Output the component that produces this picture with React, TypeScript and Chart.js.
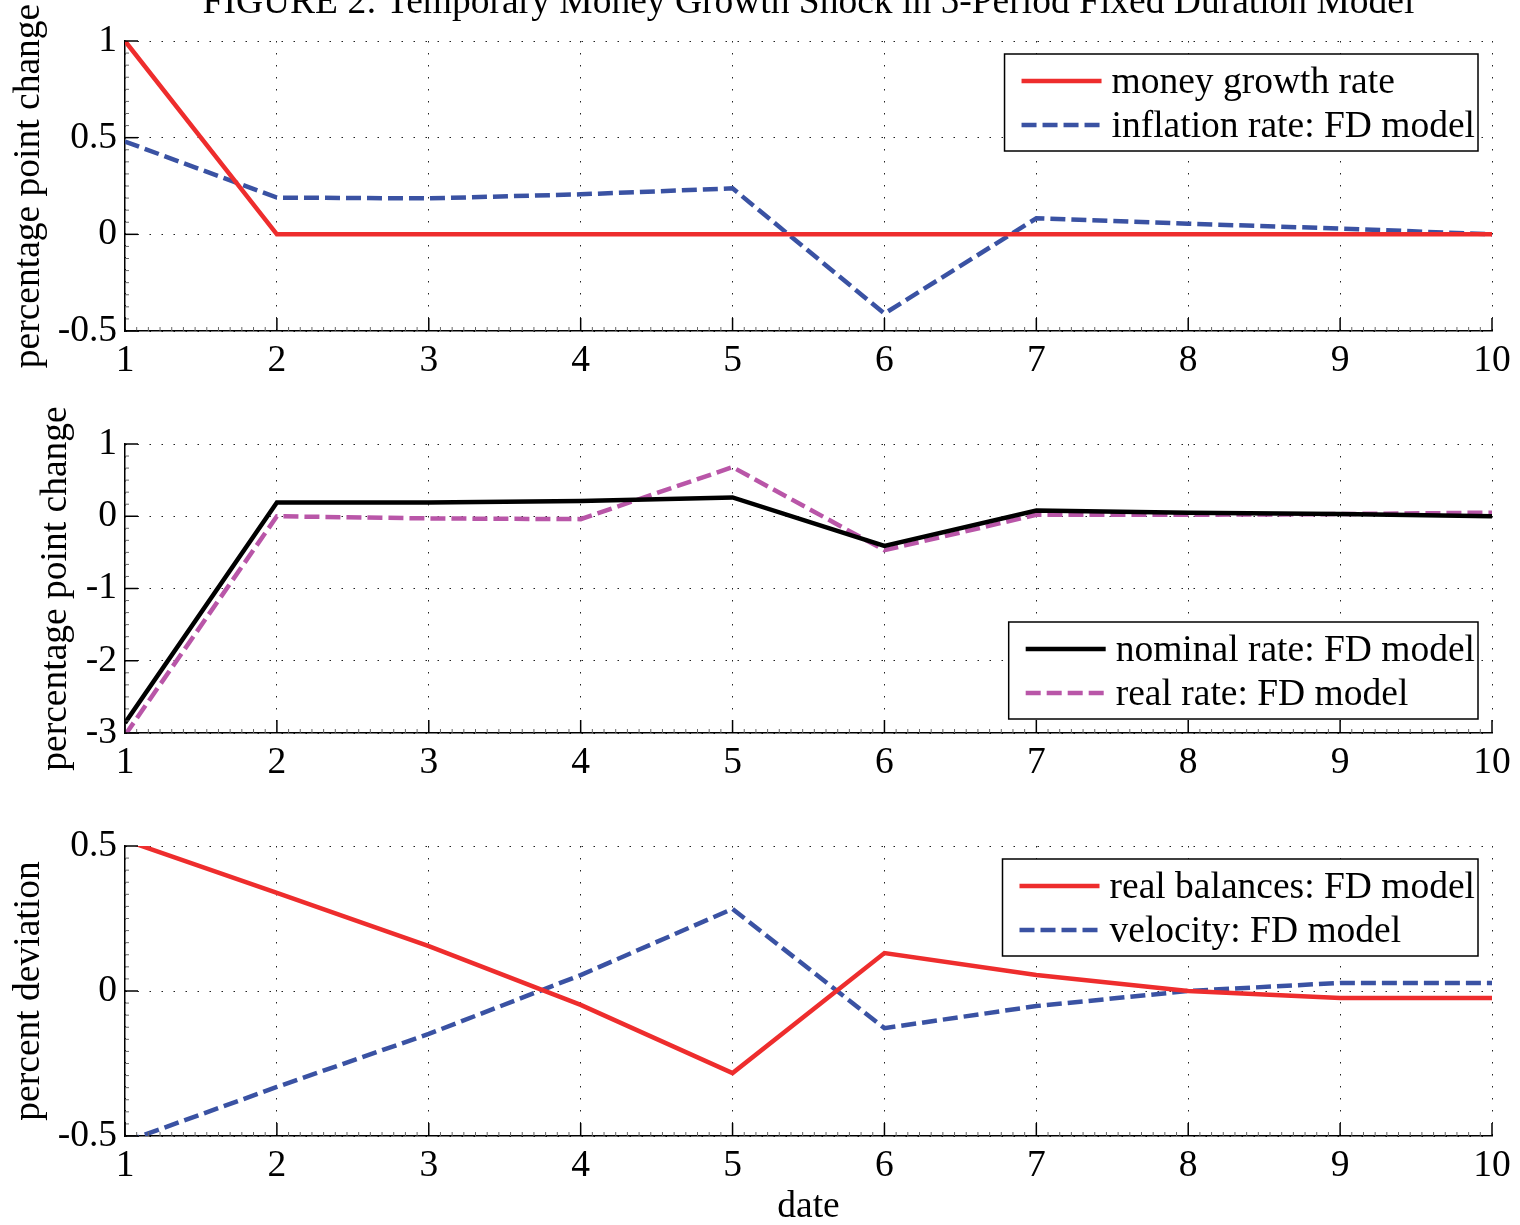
import React, { useEffect, useRef } from "react";
import { Chart, registerables } from "chart.js";

Chart.register(...registerables);

const FONT = "'Liberation Serif', 'Times New Roman', Times, serif";
const FS = 37.5;
const W = 1520;

// ---------- data ----------
const dates = [1, 2, 3, 4, 5, 6, 7, 8, 9, 10];

const moneyGrowthRate = [1, 0, 0, 0, 0, 0, 0, 0, 0, 0];
const inflationFD = [0.48, 0.19, 0.186, 0.207, 0.238, -0.41, 0.083, 0.055, 0.03, 0];

const nominalRateFD = [-2.86, 0.19, 0.19, 0.21, 0.26, -0.41, 0.08, 0.05, 0.03, 0];
const realRateFD = [-3.03, 0.0, -0.03, -0.04, 0.68, -0.47, 0.02, 0.02, 0.03, 0.05];

const realBalancesFD = [0.52, 0.338, 0.155, -0.048, -0.283, 0.131, 0.055, 0.0, -0.024, -0.024];
const velocityFD = [-0.52, -0.331, -0.148, 0.055, 0.283, -0.128, -0.052, 0.0, 0.028, 0.028];

const xTicks = [1, 2, 3, 4, 5, 6, 7, 8, 9, 10];
const yTicks1 = [-0.5, 0, 0.5, 1];
const yTicks2 = [-3, -2, -1, 0, 1];
const yTicks3 = [-0.5, 0, 0.5];

const figureTitle = "FIGURE 2: Temporary Money Growth Shock in 5-Period Fixed Duration Model";

const RED = "#ee2d2d";
const BLUE = "#3a52a3";
const MAGENTA = "#b956a8";
const BLACK = "#000000";

// ---------- plugins ----------
const tickMarks = {
  id: "tickMarks",
  afterDraw(chart: any) {
    const { ctx, chartArea } = chart;
    const xs = chart.scales.x;
    const ys = chart.scales.y;
    ctx.save();
    ctx.strokeStyle = "#666";
    ctx.lineWidth = 1;
    const xv = xs.ticks.map((t: any) => t.value);
    for (let i = 0; i < xv.length - 1; i++) {
      const a = xs.getPixelForValue(xv[i]);
      const b = xs.getPixelForValue(xv[i + 1]);
      const n = Math.max(1, Math.round((b - a) / 12));
      for (let k = 1; k < n; k++) {
        const p = a + ((b - a) * k) / n;
        ctx.beginPath();
        ctx.moveTo(p, chartArea.bottom);
        ctx.lineTo(p, chartArea.bottom - 4);
        ctx.stroke();
      }
    }
    const yv = ys.ticks.map((t: any) => t.value);
    for (let i = 0; i < yv.length - 1; i++) {
      const a = ys.getPixelForValue(yv[i]);
      const b = ys.getPixelForValue(yv[i + 1]);
      const n = Math.max(1, Math.round(Math.abs(b - a) / 12));
      for (let k = 1; k < n; k++) {
        const p = a + ((b - a) * k) / n;
        ctx.beginPath();
        ctx.moveTo(chartArea.left, p);
        ctx.lineTo(chartArea.left + 4, p);
        ctx.stroke();
      }
    }
    ctx.strokeStyle = "#000";
    ctx.lineWidth = 1.5;
    xv.forEach((v: number) => {
      const p = xs.getPixelForValue(v);
      ctx.beginPath();
      ctx.moveTo(p, chartArea.bottom);
      ctx.lineTo(p, chartArea.bottom - 13);
      ctx.stroke();
    });
    yv.forEach((v: number) => {
      const p = ys.getPixelForValue(v);
      ctx.beginPath();
      ctx.moveTo(chartArea.left, p);
      ctx.lineTo(chartArea.left + 13, p);
      ctx.stroke();
    });
    ctx.restore();
  },
};

const boxLegend = {
  id: "boxLegend",
  afterDraw(chart: any, _args: any, opts: any) {
    if (!opts || !opts.display) return;
    const { ctx, chartArea } = chart;
    const items = chart.data.datasets;
    ctx.save();
    ctx.font = `${opts.fontSize}px ${FONT}`;
    const maxW = Math.max(...items.map((d: any) => ctx.measureText(d.label).width));
    const padL = 17;
    const sample = 80;
    const gap = 10;
    const padR = 3;
    const rowH = 44;
    const w = padL + sample + gap + maxW + padR;
    const h = 97;
    const right = chartArea.right - 14;
    const top = opts.position === "top" ? chartArea.top + 13 : chartArea.bottom - 14 - h;
    const left = right - w;
    ctx.fillStyle = "#fff";
    ctx.fillRect(left, top, w, h);
    ctx.strokeStyle = "#000";
    ctx.lineWidth = 1.5;
    ctx.strokeRect(left, top, w, h);
    items.forEach((d: any, i: number) => {
      const cy = top + 27 + i * rowH;
      ctx.strokeStyle = d.borderColor;
      ctx.lineWidth = d.borderWidth;
      ctx.setLineDash(d.borderDash || []);
      ctx.beginPath();
      ctx.moveTo(left + padL, cy);
      ctx.lineTo(left + padL + sample, cy);
      ctx.stroke();
      ctx.setLineDash([]);
      ctx.fillStyle = "#000";
      ctx.textAlign = "left";
      ctx.textBaseline = "middle";
      ctx.fillText(d.label, left + padL + sample + gap, cy + 2);
    });
    ctx.restore();
  },
};

const topTitle = {
  id: "topTitle",
  afterDraw(chart: any, _args: any, opts: any) {
    if (!opts || !opts.text) return;
    const { ctx, chartArea } = chart;
    ctx.save();
    ctx.font = `${opts.fontSize}px ${FONT}`;
    ctx.fillStyle = "#000";
    ctx.textAlign = "center";
    ctx.textBaseline = "alphabetic";
    ctx.fillText(opts.text, (chartArea.left + chartArea.right) / 2, opts.y);
    ctx.restore();
  },
};

// ---------- chart factory ----------
type PanelSpec = {
  height: number;
  areaTop: number;
  areaBottom: number;
  yMin: number;
  yMax: number;
  yTicks: number[];
  yTitle: string;
  yTitlePad: number;
  xTitle?: string;
  legendPos: "top" | "bottom";
  title?: string;
  datasets: any[];
};

function lineDs(label: string, values: number[], color: string, dashed: boolean) {
  return {
    label,
    data: values.map((v, i) => ({ x: dates[i], y: v })),
    borderColor: color,
    backgroundColor: color,
    borderWidth: 4.5,
    borderDash: dashed ? [15, 6] : [],
    pointRadius: 0,
    tension: 0,
    fill: false,
  };
}

const DOTS = [1.5, 10.5];

function makeConfig(p: PanelSpec): any {
  return {
    type: "line",
    data: { datasets: p.datasets },
    plugins: [tickMarks, boxLegend, topTitle],
    options: {
      responsive: false,
      animation: false,
      devicePixelRatio: 1,
      layout: { padding: { left: 0, right: 28, top: p.areaTop, bottom: 0 } },
      plugins: {
        legend: { display: false },
        tooltip: { enabled: false },
        boxLegend: { display: true, position: p.legendPos, fontSize: FS },
        topTitle: p.title ? { text: p.title, fontSize: FS, y: 13 } : { text: "" },
      },
      scales: {
        x: {
          type: "linear",
          min: 1,
          max: 10,
          afterBuildTicks: (s: any) => {
            s.ticks = xTicks.map((v) => ({ value: v }));
          },
          afterFit: (s: any) => {
            s.height = p.height - p.areaBottom;
          },
          ticks: {
            color: "#000",
            font: { family: FONT, size: FS },
            padding: 8,
            maxRotation: 0,
            autoSkip: false,
            callback: (v: number) => String(v),
          },
          grid: {
            drawTicks: false,
            color: "#222",
            lineWidth: 1,
          },
          border: { display: true, color: "#000", width: 1.5, dash: DOTS },
          title: p.xTitle
            ? {
                display: true,
                text: p.xTitle,
                color: "#000",
                font: { family: FONT, size: FS, lineHeight: 0.95 },
                padding: { top: 0, bottom: 0 },
              }
            : { display: false },
        },
        y: {
          type: "linear",
          min: p.yMin,
          max: p.yMax,
          afterBuildTicks: (s: any) => {
            s.ticks = p.yTicks.map((v) => ({ value: v }));
          },
          afterFit: (s: any) => {
            s.width = 125;
          },
          ticks: {
            color: "#000",
            font: { family: FONT, size: FS },
            padding: 8,
            callback: (v: number) => String(v),
          },
          grid: {
            drawTicks: false,
            color: "#222",
            lineWidth: 1,
          },
          border: { display: true, color: "#000", width: 1.5, dash: DOTS },
          title: {
            display: true,
            text: p.yTitle,
            color: "#000",
            font: { family: FONT, size: FS },
            padding: { top: p.yTitlePad, bottom: 0 },
          },
        },
      },
    },
  };
}

const panels: PanelSpec[] = [
  {
    height: 395,
    areaTop: 41,
    areaBottom: 331,
    yMin: -0.5,
    yMax: 1,
    yTicks: yTicks1,
    yTitle: "percentage point change",
    yTitlePad: 7,
    legendPos: "top",
    title: figureTitle,
    datasets: [
      lineDs("money growth rate", moneyGrowthRate, RED, false),
      lineDs("inflation rate: FD model", inflationFD, BLUE, true),
    ],
  },
  {
    height: 400,
    areaTop: 49,
    areaBottom: 338,
    yMin: -3,
    yMax: 1,
    yTicks: yTicks2,
    yTitle: "percentage point change",
    yTitlePad: 34,
    legendPos: "bottom",
    datasets: [
      lineDs("nominal rate: FD model", nominalRateFD, BLACK, false),
      lineDs("real rate: FD model", realRateFD, MAGENTA, true),
    ],
  },
  {
    height: 430,
    areaTop: 51,
    areaBottom: 341,
    yMin: -0.5,
    yMax: 0.5,
    yTicks: yTicks3,
    yTitle: "percent deviation",
    yTitlePad: 7,
    xTitle: "date",
    legendPos: "top",
    datasets: [
      lineDs("real balances: FD model", realBalancesFD, RED, false),
      lineDs("velocity: FD model", velocityFD, BLUE, true),
    ],
  },
];

export default function App() {
  const r1 = useRef<HTMLCanvasElement>(null);
  const r2 = useRef<HTMLCanvasElement>(null);
  const r3 = useRef<HTMLCanvasElement>(null);

  useEffect(() => {
    const refs = [r1, r2, r3];
    const charts = panels.map(
      (p, i) => new Chart(refs[i].current as HTMLCanvasElement, makeConfig(p))
    );
    return () => charts.forEach((c) => c.destroy());
  }, []);

  let top = 0;
  const tops = panels.map((p) => {
    const t = top;
    top += p.height;
    return t;
  });

  return (
    <div style={{ position: "absolute", left: 0, top: 0, width: W, height: 1225, background: "#fff" }}>
      {[r1, r2, r3].map((r, i) => (
        <canvas
          key={i}
          ref={r}
          width={W}
          height={panels[i].height}
          style={{ position: "absolute", left: 0, top: tops[i], width: W, height: panels[i].height }}
        />
      ))}
    </div>
  );
}
